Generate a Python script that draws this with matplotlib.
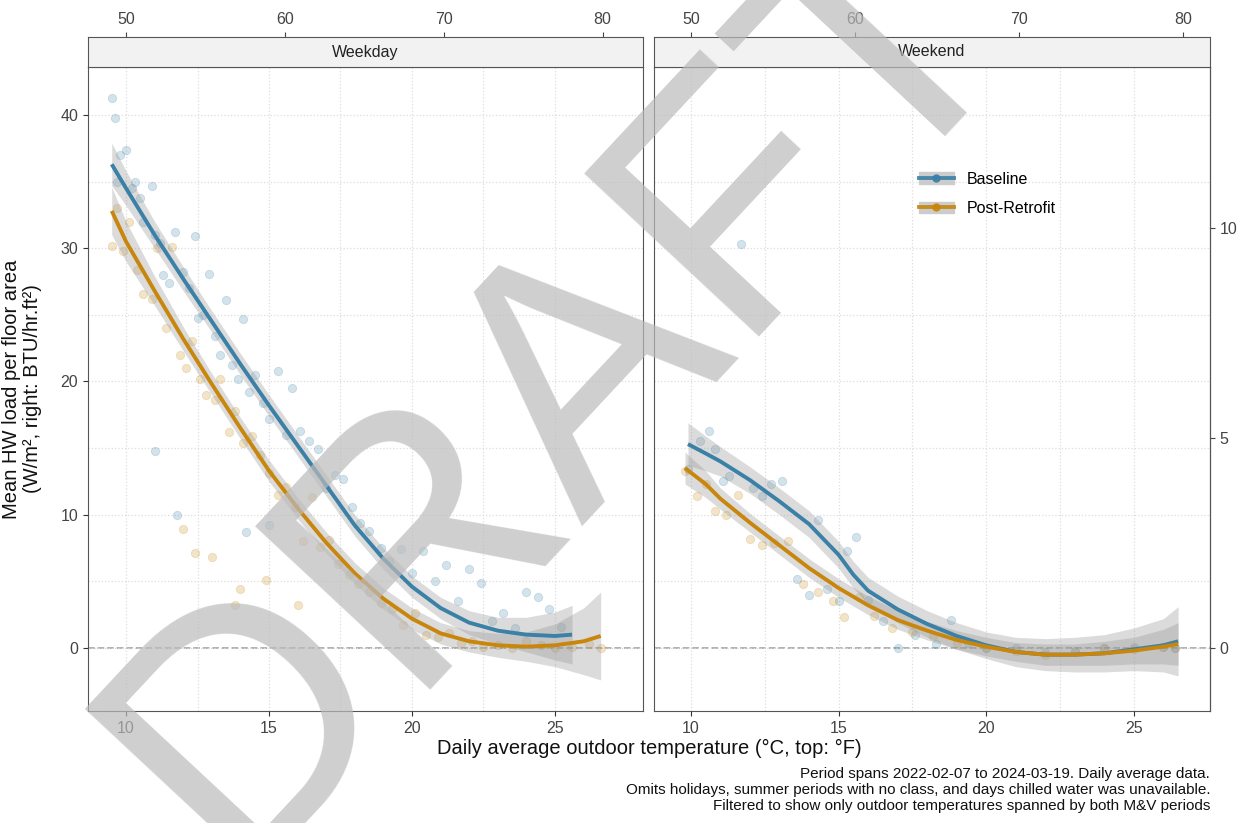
import numpy as np
import matplotlib.pyplot as plt
from matplotlib.lines import Line2D
from matplotlib.patches import Patch

plt.rcParams['font.family'] = ['Liberation Sans', 'DejaVu Sans']

# ---- data ----
wd_base_x = [9.5, 9.6, 9.7, 9.8, 10.0, 10.2, 10.3, 10.5, 10.6, 10.9, 11.0, 11.2, 11.3, 11.5, 11.7, 12.0, 12.2,
             12.4, 12.5, 12.7, 12.9, 13.1, 13.3, 13.5, 13.7, 13.9, 14.1, 14.3, 14.5, 14.8, 15.0, 15.3, 15.6,
             15.8, 16.1, 16.4, 16.7, 17.0, 17.3, 17.6, 17.9, 18.2, 18.5, 18.9, 19.2, 19.6, 20.0, 20.4, 20.8,
             21.2, 21.6, 22.0, 22.4, 22.8, 23.2, 23.6, 24.0, 24.4, 24.8, 25.2, 11.0, 11.8, 14.2, 15.0]
wd_base_y = [41.3, 39.8, 35.0, 37.0, 37.4, 34.5, 35.0, 33.8, 32.0, 34.7, 31.0, 30.4, 28.0, 27.4, 31.2, 28.2, 27.0,
             30.9, 24.8, 25.0, 28.1, 23.4, 22.0, 26.1, 21.2, 20.2, 24.7, 19.2, 20.5, 18.4, 17.2, 20.8, 16.0,
             19.5, 16.3, 15.5, 14.9, 12.0, 13.0, 12.7, 10.6, 9.4, 8.8, 7.5, 6.5, 7.4, 5.6, 7.3, 5.0,
             6.2, 3.5, 5.9, 4.9, 2.0, 2.6, 1.5, 4.2, 3.8, 2.9, 1.6, 14.8, 10.0, 8.7, 9.2]
wd_post_x = [9.5, 9.7, 9.9, 10.1, 10.4, 10.6, 10.9, 11.1, 11.4, 11.6, 11.9, 12.1, 12.3, 12.6, 12.8, 13.1, 13.3,
             13.6, 13.8, 14.1, 14.4, 14.7, 15.0, 15.3, 15.6, 15.9, 16.2, 16.5, 16.8, 17.1, 17.4, 17.8, 18.1,
             18.5, 18.9, 19.3, 19.7, 20.1, 20.5, 20.9, 21.3, 21.7, 22.1, 22.5, 23.0, 23.5, 24.0, 24.5, 25.0,
             25.6, 26.2, 26.6, 12.0, 12.4, 13.0, 14.0, 13.8, 14.9, 16.0]
wd_post_y = [30.2, 33.0, 29.8, 32.0, 28.4, 26.6, 26.2, 30.0, 24.0, 30.1, 22.0, 21.0, 23.0, 20.2, 19.0, 18.6, 20.2,
             16.2, 17.8, 15.4, 15.9, 14.5, 13.1, 11.5, 12.1, 10.6, 8.0, 11.3, 7.6, 8.1, 6.3, 5.5, 4.8,
             4.2, 3.4, 2.9, 1.7, 2.6, 1.0, 0.8, 1.1, 0.4, 0.5, 0.1, 0.2, 0.0, 0.5, 0.2, 0.0,
             0.1, 0.3, 0.0, 8.9, 7.1, 6.8, 4.4, 3.2, 5.1, 3.2]
we_base_x = [9.9, 10.3, 10.6, 10.8, 11.1, 11.3, 11.7, 12.1, 12.4, 12.7, 13.1, 13.6, 14.0, 14.3, 14.6, 15.0,
             15.3, 15.6, 16.0, 16.5, 17.0, 17.6, 18.3, 18.8, 19.4, 20.0, 21.0, 22.0, 23.0, 24.0, 25.0, 26.0, 26.4]
we_base_y = [13.4, 15.5, 16.3, 14.9, 12.5, 12.9, 30.3, 12.0, 11.4, 12.3, 12.5, 5.2, 4.0, 9.6, 4.4, 3.5,
             7.3, 8.3, 3.6, 2.0, 0.0, 1.0, 0.3, 2.1, 0.4, 0.0, 0.0, -0.3, -0.2, 0.0, 0.1, 0.1, 0.0]
we_post_x = [9.8, 10.2, 10.5, 10.8, 11.2, 11.6, 12.0, 12.4, 12.8, 13.3, 13.8, 14.3, 14.8, 15.2, 15.7, 16.2,
             16.8, 17.5, 18.2, 19.0, 20.0, 21.0, 22.0, 23.0, 24.0, 25.0, 26.0, 26.4]
we_post_y = [13.3, 11.4, 12.3, 10.3, 10.0, 11.5, 8.2, 7.7, 7.9, 8.0, 4.8, 4.2, 3.5, 2.3, 3.8, 2.4,
             1.5, 1.2, 0.9, 0.4, 0.0, -0.2, -0.5, -0.3, 0.0, -0.1, 0.1, 0.0]

# smooth fits (x, fit, ci half width)
wd_base_fx = [9.5, 10, 11, 12, 13, 14, 15, 16, 17, 18, 19, 20, 21, 22, 23, 24, 25, 25.6]
wd_base_fy = [36.3, 34.5, 31.0, 27.7, 24.5, 21.3, 18.2, 15.2, 12.2, 9.2, 6.7, 4.6, 3.0, 1.9, 1.3, 1.0, 0.9, 1.0]
wd_base_ci = [1.6, 1.3, 1.0, 0.9, 0.8, 0.8, 0.8, 0.8, 0.8, 0.8, 0.8, 0.8, 0.8, 0.9, 1.0, 1.3, 1.8, 2.2]
wd_post_fx = [9.5, 10, 11, 12, 13, 14, 15, 16, 17, 18, 19, 20, 21, 22, 23, 24, 25, 26, 26.6]
wd_post_fy = [32.8, 30.5, 26.8, 23.2, 19.8, 16.5, 13.3, 10.5, 7.9, 5.6, 3.7, 2.2, 1.1, 0.5, 0.2, 0.1, 0.2, 0.5, 0.9]
wd_post_ci = [1.8, 1.5, 1.1, 0.9, 0.8, 0.8, 0.8, 0.8, 0.8, 0.8, 0.8, 0.8, 0.8, 0.8, 0.9, 1.1, 1.6, 2.5, 3.3]
we_base_fx = [9.9, 10.5, 11, 12, 13, 14, 15, 15.5, 16, 17, 18, 19, 20, 21, 22, 23, 24, 25, 26, 26.5]
we_base_fy = [15.3, 14.6, 14.0, 12.6, 11.0, 9.3, 7.0, 5.5, 4.3, 2.9, 1.8, 0.9, 0.2, -0.3, -0.5, -0.5, -0.4, -0.1, 0.2, 0.5]
we_base_ci = [1.6, 1.3, 1.1, 1.0, 1.0, 1.0, 1.0, 1.0, 1.0, 1.0, 1.0, 1.0, 1.0, 1.1, 1.2, 1.3, 1.4, 1.6, 2.0, 2.6]
we_post_fx = [9.8, 10.5, 11, 12, 13, 14, 15, 16, 17, 18, 19, 20, 21, 22, 23, 24, 25, 26, 26.5]
we_post_fy = [13.5, 12.3, 11.2, 9.4, 7.7, 6.0, 4.5, 3.2, 2.1, 1.3, 0.6, 0.1, -0.3, -0.5, -0.5, -0.4, -0.2, 0.1, 0.3]
we_post_ci = [1.2, 1.0, 0.8, 0.7, 0.7, 0.7, 0.7, 0.7, 0.7, 0.7, 0.7, 0.7, 0.7, 0.8, 0.8, 0.9, 1.0, 1.3, 1.6]

BLUE = '#3b80a6'
GOLD = '#c8860d'

fig = plt.figure(figsize=(12.44, 8.23), dpi=100)
W, H = 1244, 823

def add_panel(x0, x1, xlim, title):
    ax = fig.add_axes([x0 / W, 1 - 711 / H, (x1 - x0) / W, (711 - 67) / H])
    ax.set_xlim(*xlim)
    ax.set_ylim(-4.73, 43.6)
    ax.set_xticks([10, 15, 20, 25])
    ax.set_xticks([12.5, 17.5, 22.5], minor=True)
    ax.set_yticks([0, 10, 20, 30, 40])
    ax.set_yticks([5, 15, 25, 35], minor=True)
    ax.grid(True, which='both', color='#dddddd', linestyle=':', linewidth=0.9)
    ax.tick_params(which='minor', length=0)
    ax.tick_params(colors='#444444', labelsize=11.5, color='#333333')
    for s in ax.spines.values():
        s.set_color('#555555')
    ax.axhline(0, color='#aaaaaa', linestyle='--', linewidth=1.3, zorder=1)
    # strip
    st = fig.add_axes([x0 / W, 1 - 67 / H, (x1 - x0) / W, 30 / H])
    st.set_facecolor('#f2f2f2')
    st.set_xticks([]); st.set_yticks([])
    for s in st.spines.values():
        s.set_color('#555555')
    st.text(0.5, 0.5, title, ha='center', va='center', fontsize=11.5, color='#222222')
    sec = ax.secondary_xaxis(1 + 30 / 644, functions=(lambda c: c * 9 / 5 + 32, lambda f: (f - 32) * 5 / 9))
    sec.set_xticks([50, 60, 70, 80])
    sec.tick_params(colors='#444444', labelsize=11.5)
    sec.spines['top'].set_visible(False)
    return ax

def draw(ax, px, py, fx, fy, ci, col):
    ax.scatter(px, py, s=36, color=col, alpha=0.22, edgecolors=col, linewidths=0.6, zorder=2)
    fx = np.array(fx); fy = np.array(fy); ci = np.array(ci)
    ax.fill_between(fx, fy - ci, fy + ci, color='#999999', alpha=0.35, linewidth=0, zorder=3)
    ax.plot(fx, fy, color=col, linewidth=2.8, zorder=4, solid_capstyle='butt')

ax1 = add_panel(88, 643, (8.67, 28.08), 'Weekday')
ax2 = add_panel(654, 1210, (8.75, 27.58), 'Weekend')
ax2.set_yticklabels([])
ax2.tick_params(axis='y', length=0)
sec_y = ax2.secondary_yaxis('right', functions=(lambda w: w * 0.317, lambda b: b / 0.317))
sec_y.set_yticks([0, 5, 10])
sec_y.tick_params(colors='#444444', labelsize=11.5)

draw(ax1, wd_base_x, wd_base_y, wd_base_fx, wd_base_fy, wd_base_ci, BLUE)
draw(ax1, wd_post_x, wd_post_y, wd_post_fx, wd_post_fy, wd_post_ci, GOLD)
draw(ax2, we_base_x, we_base_y, we_base_fx, we_base_fy, we_base_ci, BLUE)
draw(ax2, we_post_x, we_post_y, we_post_fx, we_post_fy, we_post_ci, GOLD)

# legend
handles = [(Patch(color='#cccccc'), Line2D([], [], color=BLUE, lw=2.8, marker='o', ms=5, alpha=0.9)),
           (Patch(color='#cccccc'), Line2D([], [], color=GOLD, lw=2.8, marker='o', ms=5, alpha=0.9))]
ax2.legend(handles, ['Baseline', 'Post-Retrofit'], loc='upper left', bbox_to_anchor=(0.45, 0.86),
           frameon=False, fontsize=11.5, handlelength=2.2, labelspacing=0.9)

fig.text(22 / W, 1 - 389 / H, 'Mean HW load per floor area\n(W/m², right: BTU/hr.ft²)', rotation=90,
         ha='center', va='center', fontsize=14.5, color='#111111', linespacing=1.1)
fig.text(649 / W, 1 - 748 / H, 'Daily average outdoor temperature (°C, top: °F)', ha='center', va='center',
         fontsize=14.5, color='#111111')
fig.text(1210 / W, 1 - 790 / H,
         'Period spans 2022-02-07 to 2024-03-19. Daily average data.\n'
         'Omits holidays, summer periods with no class, and days chilled water was unavailable.\n'
         'Filtered to show only outdoor temperatures spanned by both M&V periods',
         ha='right', va='center', fontsize=11, color='#111111', linespacing=1.15)

# watermark
fig.text(0.45, 0.53, 'DRAFT', rotation=47, fontsize=250, color='#bbbbbb', alpha=0.7,
         ha='center', va='center', zorder=10)

fig.savefig('out.png', dpi=100)
